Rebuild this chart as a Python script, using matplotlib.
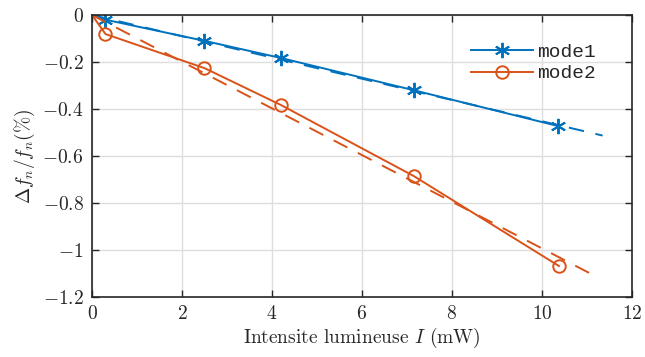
import numpy as np
import matplotlib.pyplot as plt
from matplotlib.ticker import FuncFormatter

# mesures (la premiere valeur est l'origine, sans marqueur)
I_mode1 = [0, 0.3, 2.5, 4.2, 7.15, 10.35]
df_mode1 = [0, -0.02, -0.11, -0.183, -0.32, -0.472]
I_mode2 = [0, 0.3, 2.5, 4.2, 7.15, 10.38]
df_mode2 = [0, -0.081, -0.226, -0.383, -0.685, -1.068]

# ajustements lineaires (pente en %/mW)
I_fit = [0, 11.35]
pente1 = -0.0452
pente2 = -0.0993
I_fit2 = [0, 11.25]

plt.rcParams['font.family'] = 'serif'
plt.rcParams['font.serif'] = ['cmr10', 'DejaVu Serif']
plt.rcParams['mathtext.fontset'] = 'cm'
plt.rcParams['axes.unicode_minus'] = False

bleu = '#0072BD'
orange = '#D95319'
gris = '#262626'

fig = plt.figure(figsize=(6.45, 3.57), dpi=100)
ax = fig.add_axes([0.1426, 0.168, 0.837, 0.79])

ax.plot(I_mode1, df_mode1, '-', color=bleu, lw=1.4, marker=(6, 2, 0),
        markersize=11, markeredgewidth=1.4, markevery=range(1, len(I_mode1)), label='mode1')
ax.plot(I_mode2, df_mode2, '-', color=orange, lw=1.4, marker='o', markersize=9,
        markerfacecolor='none', markeredgewidth=1.4, markevery=range(1, len(I_mode2)), label='mode2')

ax.plot(I_fit, [pente1 * x for x in I_fit], '--', color=bleu, lw=1.4, dashes=(8, 6))
ax.plot(I_fit2, [pente2 * x for x in I_fit2], '--', color=orange, lw=1.4, dashes=(8, 6))

ax.set_xlim(0, 12)
ax.set_ylim(-1.2, 0)
ax.set_xticks(np.arange(0, 13, 2))
ax.set_yticks(np.arange(-1.2, 0.01, 0.2))

fmt = FuncFormatter(lambda v, p: r'$%g$' % round(v, 2) if abs(v) > 1e-9 else r'$0$')
ax.xaxis.set_major_formatter(fmt)
ax.yaxis.set_major_formatter(fmt)

ax.grid(True, color='#dedede', lw=1.0)
ax.set_axisbelow(True)
ax.tick_params(direction='in', length=5, width=1.0, top=True, right=True,
               labelsize=14, colors=gris, pad=6)
for s in ax.spines.values():
    s.set_color(gris)
    s.set_linewidth(1.2)

ax.set_xlabel(r'Intensite lumineuse $I$ (mW)', fontsize=14, color=gris, labelpad=2)
ax.set_ylabel(r'$\Delta f_n/f_n(\%)$', fontsize=14, color=gris, labelpad=4)

leg = ax.legend(loc='upper right', bbox_to_anchor=(0.966, 0.962), frameon=False,
                prop={'family': 'Liberation Mono', 'size': 14}, handlelength=3.2,
                handletextpad=0.2, labelspacing=0.2)
for t in leg.get_texts():
    t.set_color(gris)

fig.savefig('out.png', dpi=100)
